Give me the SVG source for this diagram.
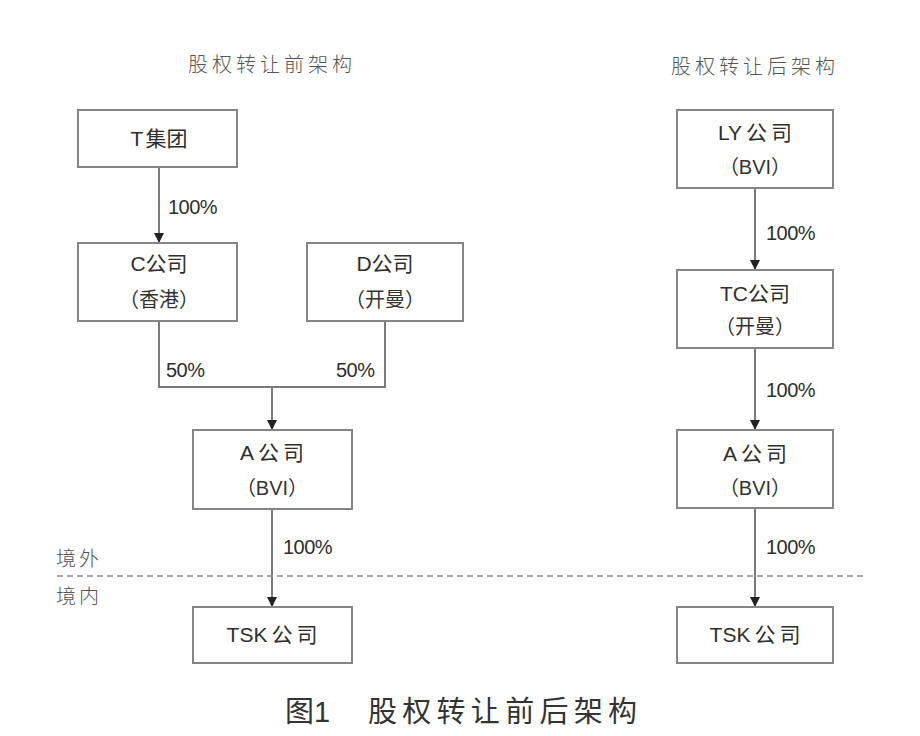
<svg xmlns="http://www.w3.org/2000/svg" width="920" height="736" viewBox="0 0 920 736">
<style>
.box{fill:#fff;stroke:#858585;stroke-width:2}
.t{font-family:"Liberation Sans","Noto Sans CJK SC",sans-serif;font-size:21px;fill:#2e2e2e;text-anchor:middle;dominant-baseline:central}
.s{font-family:"Liberation Sans","Noto Sans CJK SC",sans-serif;font-size:20px;fill:#333;text-anchor:middle;dominant-baseline:central}
.cj{letter-spacing:4px}
.pct{font-family:"Liberation Sans",sans-serif;font-size:20px;fill:#2e2e2e;dominant-baseline:central;letter-spacing:-0.5px}
.title{font-family:"Noto Sans CJK SC",sans-serif;font-weight:300;font-size:20px;fill:#555;text-anchor:middle;dominant-baseline:central;letter-spacing:4px}
.side{font-family:"Noto Sans CJK SC",sans-serif;font-weight:300;font-size:20px;fill:#555;dominant-baseline:central;letter-spacing:3px}
.cap{font-family:"Liberation Sans","Noto Sans CJK SC",sans-serif;font-size:29px;fill:#333;dominant-baseline:central}
.ln{fill:none;stroke:#7a7a7a;stroke-width:2}
.arr{marker-end:url(#ah)}
</style>
<defs>
<marker id="ah" markerUnits="userSpaceOnUse" markerWidth="10" markerHeight="10" refX="10" refY="5" orient="auto" viewBox="0 0 10 10">
<path d="M0,0 L10,5 L0,10 z" fill="#222"/>
</marker>
</defs>
<rect width="920" height="736" fill="#fff"/>
<text class="title" x="272" y="63">股权转让前架构</text>
<text class="title" x="755" y="65">股权转让后架构</text>
<g id="connectors">
<line class="ln arr" x1="159" y1="167" x2="159" y2="243"/>
<polyline class="ln" points="159,321 159,387 385,387 385,321"/>
<line class="ln arr" x1="272" y1="387" x2="272" y2="430"/>
<line class="ln arr" x1="272" y1="509" x2="272" y2="607"/>
<line class="ln arr" x1="755" y1="188" x2="755" y2="270"/>
<line class="ln arr" x1="755" y1="348" x2="755" y2="430"/>
<line class="ln arr" x1="755" y1="508" x2="755" y2="607"/>
<text class="pct" x="168" y="207">100%</text>
<text class="pct" x="166" y="370">50%</text>
<text class="pct" x="336" y="370">50%</text>
<text class="pct" x="283" y="547">100%</text>
<text class="pct" x="766" y="233">100%</text>
<text class="pct" x="766" y="390">100%</text>
<text class="pct" x="766" y="547">100%</text>
</g>
<line x1="57" y1="576" x2="863" y2="576" stroke="#8a8a8a" stroke-width="1.5" stroke-dasharray="6,4"/>
<text class="side" x="56" y="557">境外</text>
<text class="side" x="56" y="595">境内</text>
<g id="T">
<rect class="box" x="78" y="110" width="159" height="57"/>
<text class="t" x="159" y="138">T<tspan dx="2">集团</tspan></text>
</g>
<g id="C">
<rect class="box" x="78" y="243" width="159" height="78"/>
<text class="t" x="159" y="263">C公司</text>
<text class="s" x="159" y="300">（香港）</text>
</g>
<g id="D">
<rect class="box" x="307" y="243" width="156" height="78"/>
<text class="t" x="385" y="263">D公司</text>
<text class="s" x="385" y="300">（开曼）</text>
</g>
<g id="A-left">
<rect class="box" x="193" y="430" width="159" height="79"/>
<text class="t" x="274" y="452">A<tspan class="cj" dx="4">公司</tspan></text>
<text class="s" x="272" y="488">（BVI）</text>
</g>
<g id="TSK-left">
<rect class="box" x="193" y="607" width="159" height="56"/>
<text class="t" x="274" y="634">TSK<tspan class="cj" dx="4">公司</tspan></text>
</g>
<g id="LY">
<rect class="box" x="677" y="110" width="156" height="78"/>
<text class="t" x="757" y="132">LY<tspan class="cj" dx="4">公司</tspan></text>
<text class="s" x="755" y="167">（BVI）</text>
</g>
<g id="TC">
<rect class="box" x="677" y="270" width="156" height="78"/>
<text class="t" x="755" y="293">TC公司</text>
<text class="s" x="755" y="327">（开曼）</text>
</g>
<g id="A-right">
<rect class="box" x="677" y="430" width="156" height="78"/>
<text class="t" x="757" y="453">A<tspan class="cj" dx="4">公司</tspan></text>
<text class="s" x="755" y="488">（BVI）</text>
</g>
<g id="TSK-right">
<rect class="box" x="677" y="607" width="156" height="56"/>
<text class="t" x="757" y="634">TSK<tspan class="cj" dx="4">公司</tspan></text>
</g>
<text class="cap" x="285" y="712">图1</text>
<text class="cap" x="368" y="712" textLength="269" lengthAdjust="spacing">股权转让前后架构</text>
</svg>
